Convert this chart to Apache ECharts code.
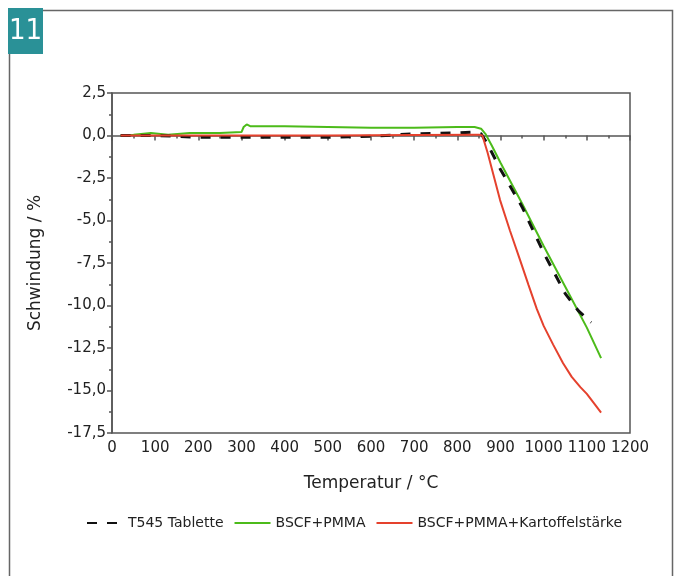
<!DOCTYPE html>
<html>
<head>
<meta charset="utf-8">
<script src="https://cdn.jsdelivr.net/npm/echarts@6/dist/echarts.min.js"></script>
<style>
  html, body { margin: 0; padding: 0; background: #fff; }
  #chart { width: 681px; height: 576px; }
</style>
</head>
<body>
<div id="chart"></div>
<script>
var seriesNames = ['T545 Tablette', 'BSCF+PMMA', 'BSCF+PMMA+Kartoffelstärke'];

// T545 Tablette (dashed black)
var tabletteT = [20, 100, 200, 300, 400, 500, 600, 700, 800, 840, 855, 870, 900, 950, 1000, 1050, 1080, 1110];
var tabletteV = [0, 0, -0.1, -0.1, -0.1, -0.1, -0.05, 0.1, 0.15, 0.2, 0.1, -0.5, -2.0, -4.2, -6.9, -9.3, -10.3, -11.0];

// BSCF+PMMA (green)
var pmmaT = [20, 50, 90, 130, 180, 250, 300, 305, 312, 320, 400, 500, 600, 700, 800, 840, 855, 865, 880, 900, 950, 1000, 1050, 1100, 1133];
var pmmaV = [0, 0.05, 0.15, 0.05, 0.15, 0.15, 0.2, 0.5, 0.65, 0.55, 0.55, 0.5, 0.45, 0.45, 0.5, 0.5, 0.4, 0.1, -0.6, -1.6, -4.0, -6.5, -8.9, -11.3, -13.1];

// BSCF+PMMA+Kartoffelstärke (red)
var starchT = [20, 100, 300, 500, 700, 850, 858, 870, 899, 922, 945, 965, 984, 1000, 1022, 1045, 1065, 1085, 1100, 1115, 1133];
var starchV = [0, 0, 0, 0, 0.03, 0.05, 0, -1.0, -3.8, -5.6, -7.3, -8.8, -10.2, -11.2, -12.3, -13.4, -14.2, -14.8, -15.2, -15.7, -16.3];

function pairs(t, v) {
  var out = [];
  for (var i = 0; i < t.length; i++) out.push([t[i], v[i]]);
  return out;
}

var font = 'DejaVu Sans';
var axisColor = '#555';

var myChart = echarts.init(document.getElementById('chart'));
var option = {
  backgroundColor: '#fff',
  animation: false,
  graphic: [
    {
      type: 'rect',
      shape: { x: 9.5, y: 10.5, width: 663, height: 620 },
      style: { fill: 'none', stroke: '#666', lineWidth: 1.5 },
      z: 0
    },
    {
      type: 'rect',
      shape: { x: 8, y: 8, width: 35, height: 46 },
      style: { fill: '#2a9197' },
      z: 10
    },
    {
      type: 'text',
      x: 25.5,
      y: 31,
      style: {
        text: '11',
        fill: '#fff',
        align: 'center',
        verticalAlign: 'middle',
        font: '29px "DejaVu Sans Condensed"'
      },
      z: 11
    }
  ],
  grid: {
    left: 112,
    right: 51,
    top: 93,
    bottom: 143,
    show: true,
    borderColor: axisColor,
    borderWidth: 1.5
  },
  legend: {
    data: seriesNames,
    left: 81,
    top: 511,
    itemWidth: 36,
    itemHeight: 14,
    itemGap: 10,
    itemStyle: { opacity: 0 },
    textStyle: { fontFamily: font, fontSize: 14, color: '#222' }
  },
  xAxis: {
    type: 'value',
    min: 0,
    max: 1200,
    interval: 100,
    name: 'Temperatur / °C',
    nameLocation: 'middle',
    nameGap: 42,
    nameTextStyle: { fontFamily: font, fontSize: 17, color: '#222' },
    axisLine: { lineStyle: { color: axisColor, width: 1.5 } },
    axisTick: { length: 5, lineStyle: { color: axisColor, width: 1.5 } },
    minorTick: { show: true, splitNumber: 2, length: 3, lineStyle: { color: axisColor, width: 1.5 } },
    splitLine: { show: false },
    axisLabel: {
      fontFamily: font,
      fontSize: 15,
      color: '#222',
      margin: 8,
      formatter: function (v) { return String(v); }
    }
  },
  yAxis: {
    type: 'value',
    min: -17.5,
    max: 2.5,
    interval: 2.5,
    name: 'Schwindung / %',
    nameLocation: 'middle',
    nameGap: 68,
    nameTextStyle: { fontFamily: font, fontSize: 17, color: '#222' },
    axisLine: { show: true, lineStyle: { color: axisColor, width: 1.5 } },
    axisTick: { show: true, length: 5, lineStyle: { color: axisColor, width: 1.5 } },
    minorTick: { show: true, splitNumber: 2, length: 3, lineStyle: { color: axisColor, width: 1.5 } },
    splitLine: { show: false },
    axisLabel: {
      fontFamily: font,
      fontSize: 15,
      color: '#222',
      margin: 6,
      formatter: function (v) { return v.toFixed(1).replace('.', ','); }
    }
  },
  series: [
    {
      name: seriesNames[0],
      type: 'line',
      data: pairs(tabletteT, tabletteV),
      showSymbol: false,
      symbol: 'none',
      z: 3,
      itemStyle: { color: '#111' },
      lineStyle: { color: '#111', width: 3, type: [10, 10] }
    },
    {
      name: seriesNames[1],
      type: 'line',
      data: pairs(pmmaT, pmmaV),
      showSymbol: false,
      symbol: 'none',
      z: 2,
      itemStyle: { color: '#4cbb1a' },
      lineStyle: { color: '#4cbb1a', width: 2 }
    },
    {
      name: seriesNames[2],
      type: 'line',
      data: pairs(starchT, starchV),
      showSymbol: false,
      symbol: 'none',
      z: 4,
      itemStyle: { color: '#e5412d' },
      lineStyle: { color: '#e5412d', width: 2 }
    }
  ]
};
myChart.setOption(option);
</script>
</body>
</html>
